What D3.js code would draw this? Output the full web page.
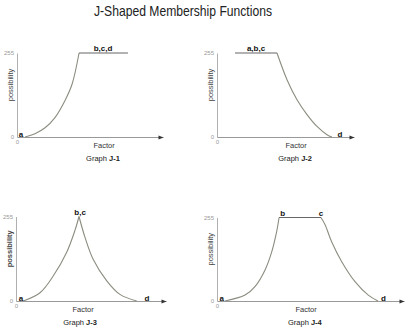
<!DOCTYPE html>
<html><head><meta charset="utf-8">
<script src="https://cdn.jsdelivr.net/npm/d3@7"></script>
<style>
html,body{margin:0;padding:0;background:#fff;}
svg{display:block;font-family:Arial,"Liberation Sans",sans-serif;}
</style></head>
<body><svg id="c" width="417" height="334"></svg>
<script>
const title = "J-Shaped Membership Functions";
const yTickValues = [0, 255];
const graphNames = ["J-1", "J-2", "J-3", "J-4"];
const axisLabelX = "Factor";
const axisLabelY = "possibility";

// Each segment: [factor, possibility] points
const j1Rise = [[5.5,0],[12.3,10],[19.2,28],[26.0,59],[32.9,111],[37.7,160],[42.5,255]];
const j1Flat = [[42.5,255],[76.0,255]];
const j2Flat = [[13.1,255],[43.8,255]];
const j2Fall = [[43.8,255],[51.1,174],[58.4,113],[65.7,68],[73.0,32],[80.3,7],[83.9,0]];
const j3Rise = [[4.9,0],[16.0,25],[24.9,76],[33.8,147],[39.3,213],[42.0,255]];
const j3Fall = [[42.0,255],[46.0,192],[51.5,125],[60.5,61],[69.3,20],[80.5,0]];
const j4Rise = [[4.3,0],[15.0,18],[20.3,44],[25.7,95],[29.3,151],[31.9,212],[33.2,255]];
const j4Flat = [[33.2,255],[55.6,255]];
const j4Fall = [[55.6,255],[57.8,233],[61.3,181],[66.7,120],[73.8,59],[80.9,18],[86.1,0]];

const j1Labels = [["a",2.7,0],["b,c,d",58.9,255]];
const j2Labels = [["a,b,c",28.5,255],["d",89.8,0]];
const j3Labels = [["a",3.3,0],["b,c",42.7,255],["d",87.3,0]];
const j4Labels = [["a",2.5,0],["b",35.1,255],["c",55.6,255],["d",89.0,0]];

// positions (in factor units) of "Factor" and "Graph" captions
const factorPos = [59.6, 57.7, 44.7, 47.6];
const graphPos = [58.9, 57.0, 42.7, 47.0];

const panels = [
  {name:graphNames[0], curves:[j1Rise], flats:[j1Flat], labels:j1Labels, x0:17, x1:163, yT:53, yB:137, boldY:false},
  {name:graphNames[1], curves:[j2Fall], flats:[j2Flat], labels:j2Labels, x0:217, x1:354, yT:53, yB:137, boldY:false},
  {name:graphNames[2], curves:[j3Rise,j3Fall], flats:[], labels:j3Labels, x0:16, x1:166, yT:216.5, yB:301, boldY:true},
  {name:graphNames[3], curves:[j4Rise,j4Fall], flats:[j4Flat], labels:j4Labels, x0:217, x1:404, yT:217.5, yB:301, boldY:false}
];

const svg = d3.select("#c");
svg.append("defs").append("marker")
  .attr("id","arr").attr("viewBox","0 0 10 10").attr("refX",10).attr("refY",5)
  .attr("markerWidth",6).attr("markerHeight",5).attr("markerUnits","userSpaceOnUse")
  .attr("orient","auto")
  .append("path").attr("d","M0,1 L10,5 L0,9 Z").attr("fill","#333");

svg.append("text").attr("x",183).attr("y",16).attr("text-anchor","middle")
  .attr("font-size",14.5).attr("fill","#222")
  .attr("textLength",178).attr("lengthAdjust","spacingAndGlyphs")
  .text(title);

panels.forEach((p, i) => {
  const x = d3.scaleLinear().domain([0,100]).range([p.x0,p.x1]);
  const y = d3.scaleLinear().domain([0,255]).range([p.yB,p.yT]);
  const g = svg.append("g");

  // y axis
  const ya = g.append("g").attr("transform",`translate(${p.x0},0)`)
    .call(d3.axisLeft(y).tickValues(yTickValues).tickSize(0).tickSizeOuter(0).tickPadding(3));
  ya.select(".domain").attr("stroke","#b0b0b0").attr("stroke-width",1);
  ya.selectAll("text").attr("font-size",6).attr("fill","#999").attr("font-family","Arial, sans-serif");

  // x axis
  const xa = g.append("g").attr("transform",`translate(0,${p.yB})`)
    .call(d3.axisBottom(x).tickValues([0]).tickSize(0).tickSizeOuter(0).tickPadding(3));
  xa.select(".domain").attr("stroke","#999").attr("stroke-width",1).attr("marker-end","url(#arr)");
  xa.selectAll("text").attr("font-size",6).attr("fill","#999").attr("font-family","Arial, sans-serif");

  const line = d3.line().x(d=>x(d[0])).y(d=>y(d[1])).curve(d3.curveCatmullRom.alpha(0.5));
  const lineStraight = d3.line().x(d=>x(d[0])).y(d=>y(d[1]));

  p.curves.forEach(c => {
    g.append("path").attr("d",line(c)).attr("fill","none")
      .attr("stroke","#8c8c80").attr("stroke-width",1.1);
  });
  p.flats.forEach(c => {
    g.append("path").attr("d",lineStraight(c)).attr("fill","none")
      .attr("stroke","#666").attr("stroke-width",1.2);
  });

  p.labels.forEach(l => {
    g.append("text").attr("x",x(l[1])).attr("y",y(l[2]) + (l[2]>0 ? -2 : 0))
      .attr("text-anchor","middle").attr("font-size",8).attr("font-weight","bold")
      .attr("fill","#111").text(l[0]);
  });

  // y label
  const cx = p.x0 - 4.5, cy = (p.yT + p.yB)/2 - 10;
  g.append("text").attr("transform",`translate(${cx},${cy}) rotate(-90)`)
    .attr("text-anchor","middle").attr("font-size",7.5)
    .attr("font-weight", p.boldY ? "bold" : "normal")
    .attr("fill","#444").text(axisLabelY);

  g.append("text").attr("x",x(factorPos[i])).attr("y",p.yB+10.5).attr("text-anchor","middle")
    .attr("font-size",7.5).attr("fill","#333").text(axisLabelX);
  const gt = g.append("text").attr("x",x(graphPos[i])).attr("y",p.yB+23.5).attr("text-anchor","middle")
    .attr("font-size",7.5).attr("fill","#222");
  gt.append("tspan").text("Graph ");
  gt.append("tspan").attr("font-weight","bold").text(p.name);
});
</script></body></html>
